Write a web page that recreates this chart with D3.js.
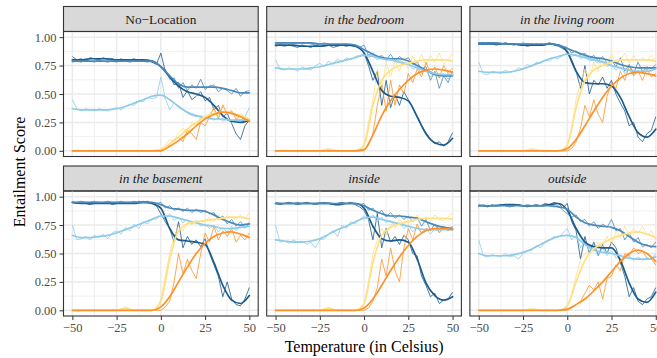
<!DOCTYPE html>
<html>
<head>
<meta charset="utf-8">
<script src="https://cdn.jsdelivr.net/npm/d3@7"></script>
<style>
  html, body { margin: 0; padding: 0; background: #fff; overflow: hidden; }
  svg { display: block; font-family: "Liberation Serif", "DejaVu Serif", serif; }
</style>
</head>
<body>
<div id="chart"></div>
<script>
// temperatures of the raw readings and of the smoothed fits
const rawTemps = [-50, -47.5, -45, -42.5, -40, -37.5, -35, -32.5, -30, -27.5,
  -25, -22.5, -20, -17.5, -15, -12.5, -10, -7.5, -5, -2.5,
  0, 2.5, 5, 7.5, 10, 12.5, 15, 17.5, 20, 22.5,
  25, 27.5, 30, 32.5, 35, 37.5, 40, 42.5, 45, 47.5, 50];
const smoothTemps = [-50, -45, -40, -35, -30, -25, -20, -15, -10, -5, 0, 5, 10, 15, 20, 25, 30, 35, 40, 45, 50];

const xTicks = [-50, -25, 0, 25, 50];
const yTicks = [0, 0.25, 0.5, 0.75, 1];
const panelLabels = ['No\u2212Location', 'in the bedroom', 'in the living room', 'in the basement', 'inside', 'outside'];
const seriesColors = ['#1c5b8b', '#4a89ba', '#8fcbe8', '#ffe083', '#fe922a'];

// each panel: rows are dark blue, mid blue, light blue, yellow, orange
const rawNoLocation = [
  [.83,.80,.81,.79,.82,.81,.80,.82,.80,.81, .79,.81,.79,.80,.81,.79,.80,.79,.78,.76, .86,.70,.66,.58,.60,.47,.53,.45,.48,.52, .44,.47,.36,.40,.30,.33,.24,.15,.10,.22, .27],
  [.78,.79,.78,.80,.79,.78,.80,.79,.78,.79, .78,.80,.79,.78,.79,.80,.79,.78,.79,.77, .74,.72,.63,.64,.55,.60,.53,.58,.55,.63, .54,.57,.58,.52,.55,.53,.50,.55,.48,.52, .53],
  [.45,.37,.35,.37,.36,.35,.37,.36,.35,.37, .38,.36,.39,.41,.40,.44,.43,.47,.46,.47, .65,.46,.36,.42,.38,.36,.33,.31,.30,.31, .28,.30,.27,.29,.26,.28,.25,.28,.27,.30, .38],
  [0,0,0,0,0,0,0,0,0,0, 0,0,0,0,0,0,0,0,0,0, .02,.05,.10,.08,.16,.20,.14,.25,.22,.30, .28,.33,.36,.30,.41,.33,.36,.30,.33,.28, .26],
  [0,0,0,0,0,0,0,0,0,0, 0,0,0,0,0,0,0,0,0,0, 0,.03,.06,.10,.12,.08,.18,.15,.10,.25, .22,.30,.38,.28,.40,.32,.35,.28,.31,.27, .25]
];
const smoothNoLocation = [
  [.80,.80,.81,.81,.81,.80,.80,.80,.80,.79, .74, .65,.57,.52,.50,.47,.40,.31,.26,.25,.27],
  [.79,.79,.79,.79,.79,.79,.79,.79,.79,.79, .74, .66,.59,.56,.56,.56,.56,.55,.53,.51,.51],
  [.37,.36,.36,.36,.36,.37,.39,.42,.45,.48, .49, .45,.39,.34,.31,.29,.28,.28,.27,.27,.27],
  [0,0,0,0,0,0,0,0,0,0, .01, .06,.12,.19,.25,.30,.33,.34,.33,.31,.28],
  [0,0,0,0,0,0,0,0,0,0, 0, .04,.09,.15,.22,.28,.32,.34,.33,.30,.26]
];

const rawBedroom = [
  [.92,.93,.92,.93,.92,.91,.93,.92,.91,.93, .92,.92,.93,.91,.92,.93,.92,.93,.92,.90, .86,.75,.62,.70,.40,.62,.38,.50,.40,.52, .45,.38,.30,.22,.16,.10,.06,.08,.04,.08, .16],
  [.95,.94,.95,.95,.94,.95,.94,.95,.94,.93, .94,.95,.94,.93,.94,.93,.94,.93,.92,.91, .93,.84,.86,.82,.84,.80,.85,.79,.83,.80, .82,.76,.78,.72,.74,.62,.70,.55,.66,.60, .70],
  [.80,.72,.71,.73,.72,.70,.74,.72,.71,.75, .77,.74,.79,.76,.81,.78,.82,.80,.83,.84, .85,.82,.84,.80,.83,.79,.81,.78,.80,.76, .77,.72,.74,.68,.71,.65,.69,.64,.68,.63, .70],
  [0,0,0,0,0,0,0,0,0,0, 0,.01,.02,.01,0,0,0,0,0,0, .05,.25,.45,.72,.55,.78,.65,.80,.70,.82, .72,.84,.76,.85,.75,.84,.78,.86,.76,.80, .86],
  [0,0,0,0,0,0,0,0,0,0, 0,0,0,0,0,0,0,0,0,0, 0,.05,.15,.40,.58,.35,.62,.40,.58,.50, .68,.60,.72,.65,.78,.68,.74,.64,.75,.68, .73]
];
const smoothBedroom = [
  [.93,.93,.93,.92,.92,.92,.93,.93,.93,.92, .86, .70,.53,.48,.47,.44,.30,.15,.07,.05,.11],
  [.95,.95,.95,.95,.95,.94,.94,.94,.94,.93, .89, .85,.82,.81,.81,.79,.75,.71,.67,.66,.66],
  [.73,.72,.72,.72,.73,.74,.76,.78,.80,.82, .84, .83,.81,.80,.78,.76,.73,.70,.68,.67,.67],
  [0,0,0,0,0,0,.01,0,0,0, .05, .40,.62,.71,.75,.77,.79,.80,.80,.80,.79],
  [0,0,0,0,0,0,0,0,0,0, .01, .14,.31,.44,.54,.62,.68,.71,.72,.71,.69]
];

const rawLivingRoom = [
  [.95,.94,.95,.94,.93,.94,.95,.94,.93,.94, .93,.92,.93,.94,.93,.94,.95,.93,.92,.90, .88,.80,.70,.55,.75,.50,.62,.58,.65,.55, .62,.50,.42,.35,.22,.25,.12,.08,.15,.18, .30],
  [.95,.95,.94,.95,.95,.94,.95,.94,.94,.93, .95,.94,.94,.93,.94,.93,.95,.94,.93,.92, .91,.86,.88,.84,.86,.81,.84,.79,.83,.77, .80,.74,.82,.70,.76,.68,.78,.70,.74,.72, .76],
  [.78,.68,.67,.70,.69,.68,.71,.69,.70,.73, .72,.76,.74,.78,.77,.80,.79,.82,.81,.84, .86,.83,.85,.81,.83,.79,.80,.77,.79,.74, .76,.71,.74,.68,.72,.66,.71,.68,.73,.70, .74],
  [0,0,0,0,0,0,0,0,0,0, 0,.01,.02,.01,0,0,0,0,0,0, .04,.20,.45,.60,.72,.64,.78,.70,.82,.74, .85,.76,.80,.86,.77,.84,.78,.82,.79,.84, .78],
  [0,0,0,0,0,0,0,0,0,0, 0,0,0,0,0,0,0,0,0,0, 0,.02,.08,.20,.40,.30,.45,.32,.25,.48, .60,.55,.70,.62,.75,.66,.70,.62,.72,.65, .68]
];
const smoothLivingRoom = [
  [.94,.94,.94,.94,.94,.93,.93,.93,.94,.93, .87, .70,.60,.59,.59,.57,.47,.30,.16,.12,.19],
  [.95,.95,.95,.94,.94,.94,.94,.94,.94,.93, .90, .87,.84,.82,.81,.79,.76,.74,.73,.73,.73],
  [.70,.69,.69,.69,.70,.72,.75,.78,.81,.83, .85, .84,.82,.80,.78,.75,.73,.71,.70,.70,.72],
  [0,0,0,0,0,0,.01,0,0,0, .05, .38,.62,.71,.75,.78,.80,.80,.80,.80,.79],
  [0,0,0,0,0,0,0,0,0,0, .02, .10,.22,.35,.47,.57,.64,.68,.69,.68,.66]
];

const rawBasement = [
  [.95,.94,.95,.94,.93,.94,.95,.94,.95,.93, .94,.95,.94,.95,.94,.96,.95,.96,.94,.92, .85,.78,.72,.60,.78,.55,.65,.58,.62,.56, .63,.50,.40,.30,.12,.25,.10,.05,.04,.10, .20],
  [.95,.95,.96,.95,.95,.96,.95,.95,.96,.95, .95,.96,.95,.95,.96,.95,.96,.95,.95,.94, .95,.90,.92,.88,.90,.87,.90,.86,.89,.86, .88,.85,.86,.80,.83,.76,.80,.74,.78,.73, .76],
  [.75,.62,.63,.65,.62,.66,.64,.67,.63,.68, .70,.67,.73,.70,.76,.72,.78,.76,.81,.80, .84,.80,.85,.79,.82,.77,.80,.76,.79,.74, .76,.72,.75,.69,.73,.68,.74,.70,.75,.72, .78],
  [0,0,0,0,0,0,0,0,0,0, 0,.01,.03,.01,0,0,0,0,0,.01, .10,.30,.50,.65,.74,.70,.78,.75,.80,.76, .79,.82,.78,.84,.80,.83,.82,.80,.84,.80, .86],
  [0,0,0,0,0,0,0,0,0,0, 0,0,0,0,0,0,0,0,0,0, 0,.03,.08,.25,.50,.32,.45,.35,.28,.50, .68,.60,.74,.62,.70,.65,.72,.60,.66,.62, .68]
];
const smoothBasement = [
  [.95,.94,.94,.94,.94,.94,.94,.94,.95,.94, .90, .72,.62,.61,.60,.58,.42,.22,.09,.06,.13],
  [.95,.95,.95,.95,.95,.95,.95,.95,.95,.95, .93, .90,.89,.88,.88,.87,.84,.80,.77,.75,.76],
  [.66,.64,.64,.65,.66,.68,.71,.74,.77,.80, .83, .83,.81,.79,.77,.75,.74,.72,.72,.73,.74],
  [0,0,0,0,0,0,.02,0,0,0, .08, .45,.70,.76,.78,.79,.80,.81,.82,.82,.80],
  [0,0,0,0,0,0,0,0,0,0, .03, .12,.25,.38,.50,.59,.65,.68,.69,.67,.64]
];

const rawInside = [
  [.94,.93,.94,.95,.94,.93,.94,.95,.94,.93, .94,.95,.94,.93,.94,.95,.94,.95,.93,.91, .88,.80,.62,.85,.55,.72,.60,.65,.58,.66, .62,.50,.48,.30,.22,.12,.15,.06,.09,.10, .16],
  [.95,.94,.94,.95,.94,.95,.94,.95,.94,.94, .95,.94,.95,.94,.94,.95,.94,.95,.94,.93, .94,.88,.90,.85,.88,.82,.86,.81,.84,.80, .83,.78,.82,.74,.80,.70,.76,.71,.74,.70, .74],
  [.75,.60,.61,.59,.62,.60,.61,.58,.60,.55, .62,.63,.67,.70,.65,.75,.72,.78,.76,.80, .83,.80,.84,.78,.82,.77,.79,.74,.77,.72, .75,.69,.73,.68,.72,.67,.72,.69,.73,.70, .74],
  [0,0,0,0,0,0,0,0,0,0, 0,.01,.02,.01,0,0,0,0,0,0, .06,.25,.50,.62,.72,.66,.76,.72,.80,.75, .82,.78,.84,.79,.82,.78,.84,.80,.79,.82, .86],
  [0,0,0,0,0,0,0,0,0,0, 0,0,0,0,0,0,0,0,0,0, 0,.02,.08,.20,.45,.30,.55,.35,.25,.55, .72,.62,.76,.68,.72,.70,.76,.68,.73,.70, .74]
];
const smoothInside = [
  [.94,.94,.94,.94,.94,.94,.94,.93,.94,.94, .90, .74,.63,.61,.62,.60,.45,.24,.13,.09,.12],
  [.94,.94,.94,.94,.94,.94,.94,.94,.94,.94, .92, .88,.85,.83,.83,.82,.81,.78,.75,.73,.72],
  [.62,.61,.60,.60,.61,.63,.67,.71,.74,.78, .81, .82,.80,.78,.76,.74,.72,.71,.71,.71,.71],
  [0,0,0,0,0,0,.02,0,0,0, .06, .42,.66,.73,.76,.78,.80,.81,.81,.81,.80],
  [0,0,0,0,0,0,0,0,0,0, .02, .10,.22,.35,.47,.57,.65,.70,.72,.72,.71]
];

const rawOutside = [
  [.93,.92,.91,.93,.92,.93,.92,.91,.92,.93, .92,.91,.92,.93,.92,.94,.93,.95,.94,.90, .94,.78,.70,.45,.65,.50,.60,.48,.58,.50, .60,.55,.42,.30,.12,.20,.08,.05,.10,.12, .20],
  [.92,.93,.92,.92,.93,.92,.93,.92,.92,.93, .92,.93,.92,.93,.92,.93,.92,.91,.92,.88, .85,.82,.84,.78,.80,.74,.78,.72,.76,.73, .80,.70,.72,.62,.68,.60,.64,.56,.58,.55, .60],
  [.62,.48,.47,.49,.48,.47,.50,.47,.48,.45, .50,.52,.53,.57,.55,.60,.62,.65,.64,.68, .72,.62,.66,.55,.62,.52,.56,.48,.55,.48, .52,.46,.49,.45,.48,.44,.47,.44,.46,.45, .50],
  [0,0,0,0,0,0,0,0,0,0, 0,0,.01,.01,0,0,0,0,0,0, .03,.15,.30,.45,.50,.55,.52,.60,.55,.65, .58,.70,.64,.74,.66,.72,.68,.74,.66,.70, .62],
  [0,0,0,0,0,0,0,0,0,0, 0,0,0,0,0,0,0,0,0,0, 0,.02,.05,.08,.15,.22,.18,.25,.10,.28, .30,.40,.35,.50,.48,.55,.50,.52,.46,.45, .40]
];
const smoothOutside = [
  [.92,.92,.92,.93,.93,.92,.92,.92,.93,.94, .88, .72,.60,.56,.55,.55,.44,.24,.10,.07,.16],
  [.92,.92,.92,.92,.92,.92,.92,.92,.92,.91, .89, .82,.77,.75,.74,.73,.70,.65,.60,.57,.56],
  [.50,.48,.48,.48,.49,.51,.54,.58,.62,.65, .66, .64,.58,.53,.51,.50,.48,.46,.45,.45,.47],
  [0,0,0,0,0,0,.01,0,0,0, .04, .25,.44,.54,.59,.63,.66,.68,.69,.67,.64],
  [0,0,0,0,0,0,0,0,0,0, .01, .05,.10,.17,.25,.34,.43,.50,.53,.50,.43]
];

const rawByPanel = [rawNoLocation, rawBedroom, rawLivingRoom, rawBasement, rawInside, rawOutside];
const smoothByPanel = [smoothNoLocation, smoothBedroom, smoothLivingRoom, smoothBasement, smoothInside, smoothOutside];

// layout (ggplot theme_bw look)
const width = 672, height = 358;
const left = 63.5, plotW = 194.7, gapX = 8.5;
const stripTops = [6.5, 166];
const stripH = 25, plotH = 125;

const svg = d3.select('#chart').append('svg')
  .attr('width', width)
  .attr('height', height);

const x = d3.scaleLinear().domain([-55, 55]).range([0, plotW]);
const y = d3.scaleLinear().domain([-0.05, 1.05]).range([plotH, 0]);

const rawLine = d3.line().x((d, i) => x(rawTemps[i])).y(d => y(d));
const smoothLine = d3.line().x((d, i) => x(smoothTemps[i])).y(d => y(d)).curve(d3.curveMonotoneX);

panelLabels.forEach((label, p) => {
  const col = p % 3, row = Math.floor(p / 3);
  const px = left + col * (plotW + gapX);
  const sy = stripTops[row];
  const py = sy + stripH;

  // strip
  svg.append('rect')
    .attr('x', px).attr('y', sy)
    .attr('width', plotW).attr('height', stripH)
    .attr('fill', '#d9d9d9').attr('stroke', '#333').attr('stroke-width', 1.1);
  svg.append('text')
    .attr('x', px + plotW / 2).attr('y', sy + stripH / 2 + 4.5)
    .attr('text-anchor', 'middle')
    .attr('font-size', 13.3)
    .attr('font-style', p === 0 ? 'normal' : 'italic')
    .attr('fill', '#1a1a1a')
    .text(label);

  const g = svg.append('g').attr('transform', 'translate(' + px + ',' + py + ')');

  g.append('clipPath').attr('id', 'clip' + p)
    .append('rect').attr('width', plotW).attr('height', plotH);

  // grid
  const minorX = [-37.5, -12.5, 12.5, 37.5];
  const minorY = [0.125, 0.375, 0.625, 0.875];
  g.selectAll('.minx').data(minorX).enter().append('line')
    .attr('x1', d => x(d)).attr('x2', d => x(d)).attr('y1', 0).attr('y2', plotH)
    .attr('stroke', '#ececec').attr('stroke-width', 0.8);
  g.selectAll('.miny').data(minorY).enter().append('line')
    .attr('y1', d => y(d)).attr('y2', d => y(d)).attr('x1', 0).attr('x2', plotW)
    .attr('stroke', '#ececec').attr('stroke-width', 0.8);
  g.selectAll('.majx').data(xTicks).enter().append('line')
    .attr('x1', d => x(d)).attr('x2', d => x(d)).attr('y1', 0).attr('y2', plotH)
    .attr('stroke', '#ebebeb').attr('stroke-width', 1.5);
  g.selectAll('.majy').data(yTicks).enter().append('line')
    .attr('y1', d => y(d)).attr('y2', d => y(d)).attr('x1', 0).attr('x2', plotW)
    .attr('stroke', '#ebebeb').attr('stroke-width', 1.5);

  const lines = g.append('g').attr('clip-path', 'url(#clip' + p + ')');

  // raw readings (thin)
  rawByPanel[p].forEach((vals, s) => {
    lines.append('path')
      .attr('d', rawLine(vals))
      .attr('fill', 'none')
      .attr('stroke', seriesColors[s])
      .attr('stroke-width', 0.8)
      .attr('stroke-linejoin', 'round');
  });
  // smoothed fits (thick)
  smoothByPanel[p].forEach((vals, s) => {
    lines.append('path')
      .attr('d', smoothLine(vals))
      .attr('fill', 'none')
      .attr('stroke', seriesColors[s])
      .attr('stroke-width', 1.7)
      .attr('stroke-linecap', 'round');
  });

  // panel border
  g.append('rect')
    .attr('width', plotW).attr('height', plotH)
    .attr('fill', 'none').attr('stroke', '#333').attr('stroke-width', 1.1);

  // axes
  if (col === 0) {
    const ya = g.append('g')
      .call(d3.axisLeft(y).tickValues(yTicks).tickFormat(d3.format('.2f')).tickSize(4).tickPadding(3));
    ya.select('.domain').remove();
    ya.selectAll('line').attr('stroke', '#333');
    ya.selectAll('text').attr('fill', '#4d4d4d').attr('font-size', 12.5)
      .attr('font-family', '"Liberation Serif", serif');
  }
  if (row === 1) {
    const xa = g.append('g').attr('transform', 'translate(0,' + plotH + ')')
      .call(d3.axisBottom(x).tickValues(xTicks).tickSize(4).tickPadding(3));
    xa.select('.domain').remove();
    xa.selectAll('line').attr('stroke', '#333');
    xa.selectAll('text').attr('fill', '#4d4d4d').attr('font-size', 12.5)
      .attr('font-family', '"Liberation Serif", serif');
  }
});

// axis titles
svg.append('text')
  .attr('x', left + (3 * plotW + 2 * gapX) / 2).attr('y', 351.5)
  .attr('text-anchor', 'middle')
  .attr('font-size', 16)
  .attr('fill', '#000')
  .text('Temperature (in Celsius)');

svg.append('text')
  .attr('transform', 'translate(25,' + 172 + ') rotate(-90)')
  .attr('text-anchor', 'middle')
  .attr('font-size', 16)
  .attr('fill', '#000')
  .text('Entailment Score');
</script>
</body>
</html>
